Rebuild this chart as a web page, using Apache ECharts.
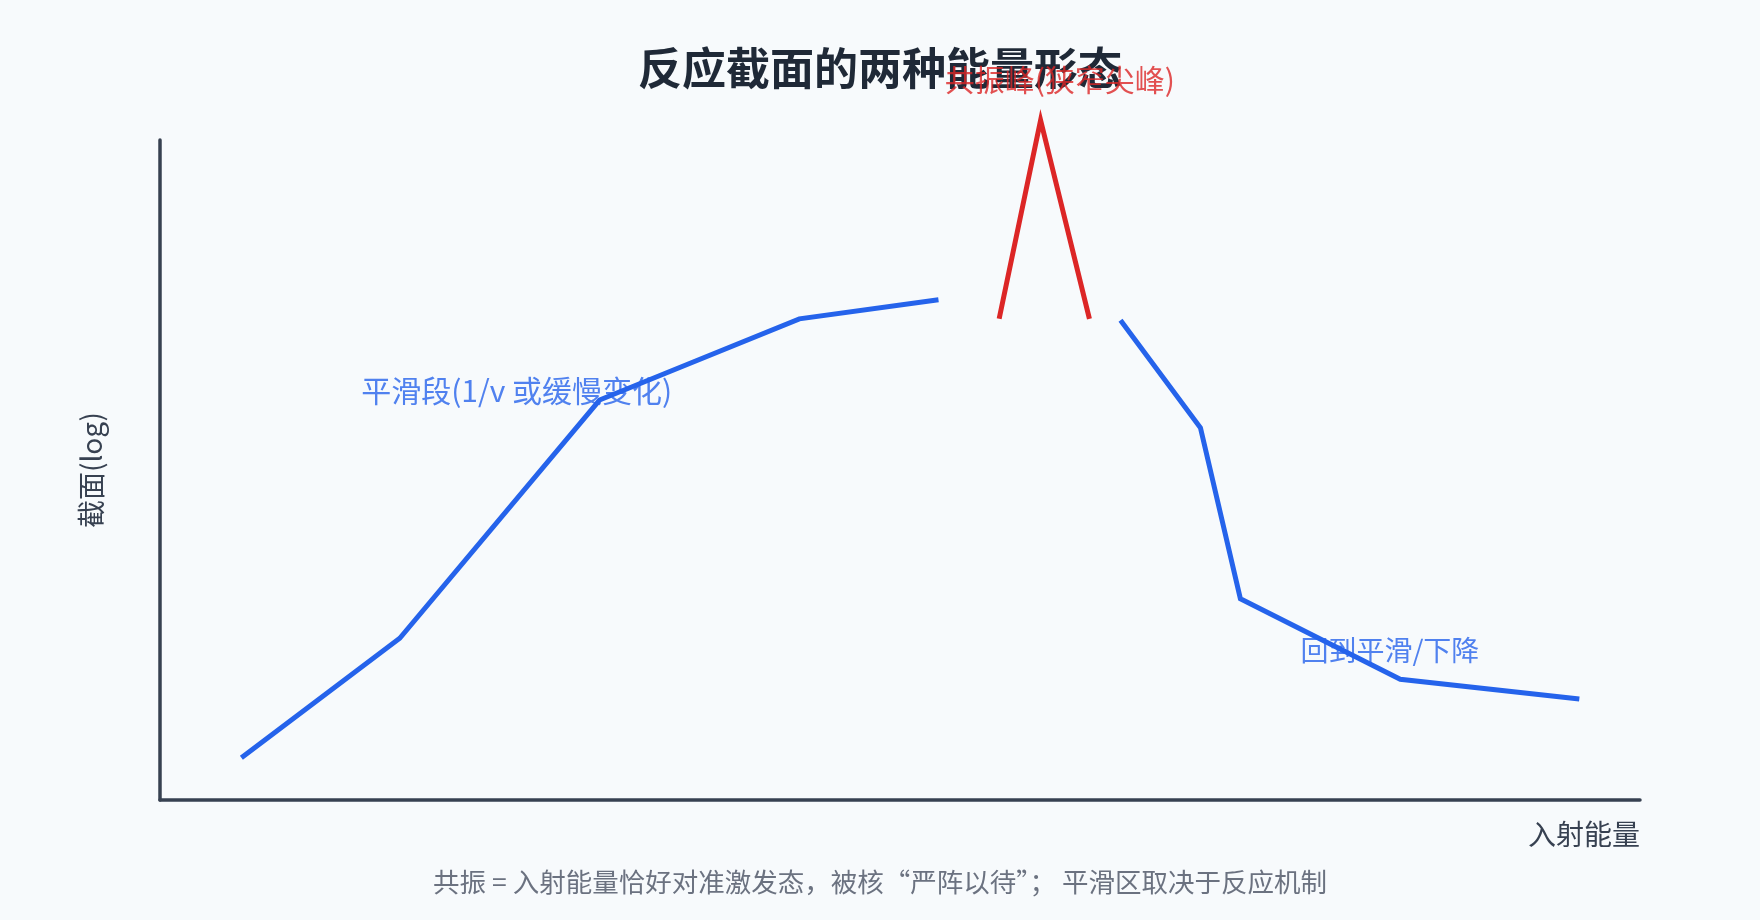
<!DOCTYPE html>
<html>
<head>
<meta charset="utf-8">
<script src="https://cdn.jsdelivr.net/npm/echarts@6/dist/echarts.min.js"></script>
<style>
  html, body { margin: 0; padding: 0; background: #f7fafc; }
  #chart { width: 1760px; height: 920px; }
</style>
</head>
<body>
<div id="chart"></div>
<script>
// ---- data (x: energy position, y: cross-section, log scale units) ----
const smoothLeftX  = [5.5, 16.2, 29.7, 43.2, 52.6];
const smoothLeftY  = [6.4, 24.5, 60.6, 72.9, 75.8];
const resonanceX   = [56.7, 59.5, 62.8];
const resonanceY   = [72.9, 103.0, 72.9];
const smoothRightX = [64.9, 70.3, 73.0, 83.8, 95.9];
const smoothRightY = [72.7, 56.4, 30.5, 18.3, 15.3];

const labelTexts = ['平滑段(1/v 或缓慢变化)', '共振峰(狭窄尖峰)', '回到平滑/下降'];
const labelX     = [24.1, 60.8, 83.1];
const labelY     = [62.1, 109.1, 22.6];

const titleText  = '反应截面的两种能量形态';
const footerText = '共振 = 入射能量恰好对准激发态，被核“严阵以待”； 平滑区取决于反应机制';
const xAxisName  = '入射能量';
const yAxisName  = '截面(log)';

// ---- styles ----
const FONT = '"Noto Sans CJK SC", "Noto Sans", sans-serif';
const labelStyles = [
  { color: '#2563eb', fontSize: 30 },
  { color: '#dc2626', fontSize: 30 },
  { color: '#2563eb', fontSize: 28 }
];
const zip = (xs, ys) => xs.map((x, i) => [x, ys[i]]);

const chart = echarts.init(document.getElementById('chart'), null, { renderer: 'canvas' });

const lineStyleBase = { width: 5, cap: 'butt', join: 'miter' };

const option = {
  backgroundColor: '#f7fafc',
  animation: false,
  textStyle: { fontFamily: FONT },
  title: [
    {
      text: titleText,
      left: 'center',
      top: 41,
      textStyle: { fontFamily: FONT, fontSize: 44, fontWeight: 'bold', color: '#1f2937' }
    },
    {
      text: footerText,
      left: 'center',
      top: 864,
      textStyle: { fontFamily: FONT, fontSize: 26.5, fontWeight: 'normal', color: '#6b7280' }
    }
  ],
  grid: { left: 160, right: 120, top: 140, bottom: 120, containLabel: false },
  xAxis: {
    type: 'value',
    min: 0, max: 100,
    name: xAxisName,
    nameLocation: 'end',
    nameGap: 0,
    nameTextStyle: {
      fontFamily: FONT, fontSize: 28, color: '#374151',
      align: 'right', verticalAlign: 'top', padding: [20, 0, 0, 0]
    },
    axisLine: { show: true, onZero: false, lineStyle: { color: '#374151', width: 3.5 } },
    axisTick: { show: false },
    axisLabel: { show: false },
    splitLine: { show: false }
  },
  yAxis: {
    type: 'value',
    min: 0, max: 100,
    name: yAxisName,
    nameLocation: 'middle',
    nameGap: 55,
    nameRotate: 90,
    nameTextStyle: { fontFamily: FONT, fontSize: 28, color: '#374151' },
    axisLine: { show: true, onZero: false, lineStyle: { color: '#374151', width: 3.5 } },
    axisTick: { show: false },
    axisLabel: { show: false },
    splitLine: { show: false }
  },
  series: [
    {
      name: '平滑段',
      type: 'line',
      data: zip(smoothLeftX, smoothLeftY),
      symbol: 'none',
      clip: false,
      lineStyle: Object.assign({ color: '#2563eb' }, lineStyleBase),
      silent: true
    },
    {
      name: '共振峰',
      type: 'line',
      data: zip(resonanceX, resonanceY),
      symbol: 'none',
      clip: false,
      lineStyle: Object.assign({ color: '#dc2626' }, lineStyleBase),
      silent: true
    },
    {
      name: '回到平滑',
      type: 'line',
      data: zip(smoothRightX, smoothRightY),
      symbol: 'none',
      clip: false,
      lineStyle: Object.assign({ color: '#2563eb' }, lineStyleBase),
      silent: true
    },
    {
      name: '标注',
      type: 'scatter',
      symbolSize: 0,
      clip: false,
      silent: true,
      z: 10,
      data: labelTexts.map((t, i) => ({
        name: t,
        value: [labelX[i], labelY[i]],
        label: labelStyles[i]
      })),
      label: {
        show: true,
        position: 'inside',
        formatter: p => p.name,
        fontFamily: FONT,
        align: 'center',
        verticalAlign: 'middle'
      }
    }
  ]
};

chart.setOption(option);
</script>
</body>
</html>
